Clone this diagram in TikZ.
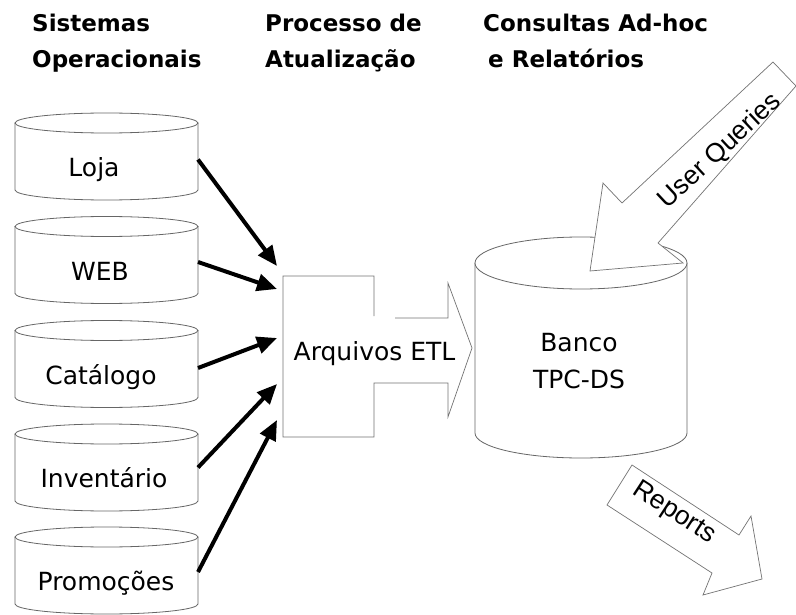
\documentclass[tikz,border=0pt]{standalone}
\usepackage{fontspec}
\setmainfont{DejaVu Sans}
\newfontfamily\arrowfont{Liberation Sans}
\usetikzlibrary{arrows.meta,calc}

\tikzset{
  cylline/.style={draw=black!60, line width=0.8pt, fill=white},
  blockline/.style={draw=black!55, line width=0.7pt, fill=white},
  feed/.style={line width=4pt, -{Triangle[length=20pt,width=17pt]}},
  heading/.style={anchor=base west, inner sep=0pt, font=\fontsize{23}{28}\selectfont\bfseries},
  lbl/.style={anchor=base, inner sep=0pt, font=\fontsize{25}{30}\selectfont},
  arrowlbl/.style={inner sep=0pt, font=\fontsize{26.5}{30}\selectfont\arrowfont},
  bodybox/.style={inner sep=0pt, outer sep=0pt}
}

\begin{document}
\begin{tikzpicture}[x=1pt, y=-1pt]
\useasboundingbox (0,0) rectangle (796,615);

% column headings
\node[heading] (h1a) at (32,32) {Sistemas};
\node[heading] (h1b) at (32,68) {Operacionais};
\node[heading] (h2a) at (265,32) {Processo de};
\node[heading] (h2b) at (265,68) {Atualização};
\node[heading] (h3a) at (483,32) {Consultas Ad-hoc};
\node[heading] (h3b) at (488,68) {e Relatórios};

% operational source databases
\foreach \nm/\yc/\txt/\lx in {loja/156.5/Loja/94, web/260/WEB/100, cat/364/Catálogo/101, inv/467.5/Inventário/104, promo/570.5/Promoções/106}{
  \draw[cylline] (15,{\yc-33.5}) -- (15,{\yc+33.5})
     arc[start angle=180, end angle=360, x radius=91.5pt, y radius=10pt]
     -- (198,{\yc-33.5});
  \draw[cylline] (106.5,{\yc-33.5}) ellipse [x radius=91.5pt, y radius=10pt];
  \node[bodybox, minimum width=183pt, minimum height=67pt] (\nm) at (106.5,\yc) {};
  \node[lbl] (\nm-t) at (\lx,{\yc+20}) {\txt};
}

% ETL staging box with its block arrow
\node[bodybox, minimum width=91pt, minimum height=161pt] (etl) at (328.5,356.5) {};
\fill[white] (283,276) -- (374,276) -- (374,318) -- (448,318) -- (448,283) -- (472,348)
   -- (448,417) -- (448,383) -- (374,383) -- (374,437) -- (283,437) -- cycle;
\draw[blockline, fill=none] (374,316) -- (374,276) -- (283,276) -- (283,437) -- (374,437)
   -- (374,383) -- (448,383) -- (448,417) -- (472,348) -- (448,283) -- (448,318) -- (395,318);
\node[lbl] (etl-t) at (374.5,360) {Arquivos ETL};

% loads into the staging area
\draw[feed] ([yshift=-3pt]loja.east) -- ([xshift=-6pt,yshift=10pt]etl.north west);
\draw[feed] ([yshift=-2pt]web.east) -- ([xshift=-6pt,yshift=-13pt]etl.north west);
\draw[feed] ([yshift=-4pt]cat.east) -- ([xshift=-6pt,yshift=-62pt]etl.north west);
\draw[feed] ([yshift=0pt]inv.east) -- ([xshift=-6pt,yshift=-108pt]etl.north west);
\draw[feed] ([yshift=-1.5pt]promo.east) -- ([xshift=-6pt,yshift=-144pt]etl.north west);

% TPC-DS database
\draw[cylline] (475,263) -- (475,433)
   arc[start angle=180, end angle=360, x radius=106pt, y radius=25pt]
   -- (687,263);
\draw[cylline] (581,263) ellipse [x radius=106pt, y radius=26pt];
\node[bodybox, minimum width=212pt, minimum height=170pt] (banco) at (581,348) {};
\node[lbl] (banco-a) at (579,351) {Banco};
\node[lbl] (banco-b) at (579,388) {TPC-DS};

% incoming queries
\draw[blockline] (590,271) -- (603,183) -- (622,203) -- (773,62) -- (796,86)
   -- (658,243) -- (683,263) -- cycle;
\node[arrowlbl, rotate=43] (uq) at (720,151) {User Queries};

% outgoing reports
\draw[blockline] (632,465) -- (739,535) -- (751,516) -- (762,579) -- (703,595)
   -- (712,573) -- (607,505) -- cycle;
\node[arrowlbl, rotate=-33] (rep) at (674,513) {Reports};
\end{tikzpicture}
\end{document}
